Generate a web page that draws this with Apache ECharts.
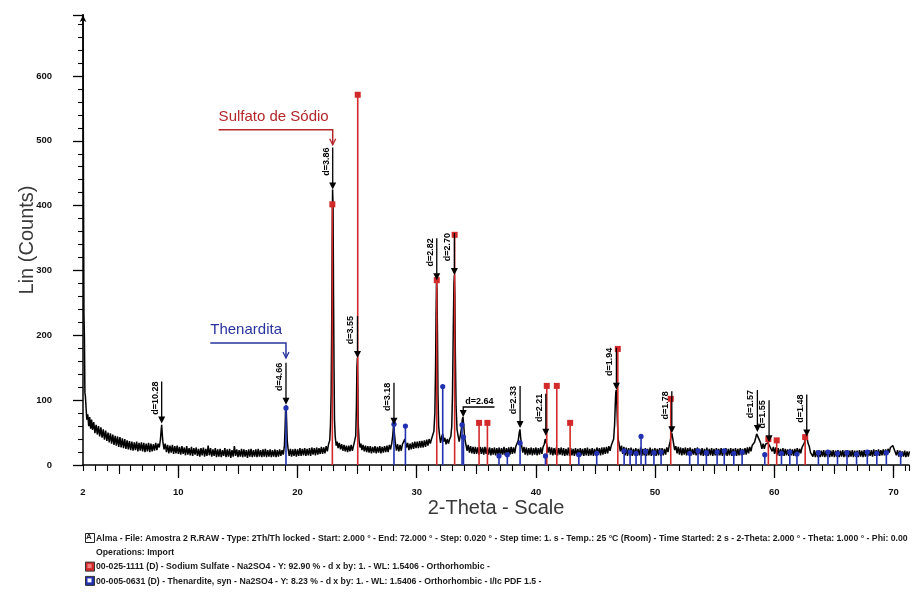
<!DOCTYPE html>
<html>
<head>
<meta charset="utf-8">
<script src="https://cdn.jsdelivr.net/npm/echarts@6/dist/echarts.min.js"></script>
<style>
  html, body { margin: 0; padding: 0; background: #ffffff; }
  #chart { width: 912px; height: 604px; }
</style>
</head>
<body>
<div id="chart"></div>
<script>
// ---- Axis ticks ----
const xTickLabels = [2, 10, 20, 30, 40, 50, 60, 70];
const xMidTicks = [5, 15, 25, 35, 45, 55, 65];

// ---- Measured scan (2-Theta, Lin counts) ----
const scanLowAngle = [
  [2.00, 700], [2.04, 430], [2.08, 232], [2.12, 195], [2.16, 112], [2.20, 106], [2.26, 88], [2.32, 70],
  [2.40, 78], [2.48, 60], [2.56, 74], [2.64, 56], [2.72, 70], [2.80, 54], [2.90, 66], [3.00, 49],
  [3.10, 62], [3.20, 47], [3.30, 60], [3.40, 44], [3.50, 58], [3.60, 42], [3.70, 55], [3.80, 39],
  [3.90, 53], [4.00, 37], [4.10, 50], [4.20, 35], [4.30, 49], [4.40, 33], [4.50, 47], [4.60, 31],
  [4.70, 45], [4.80, 30], [4.90, 44], [5.00, 28], [5.10, 43], [5.20, 27], [5.30, 41], [5.40, 26],
  [5.50, 40], [5.60, 25], [5.70, 38], [5.80, 24], [5.90, 37], [6.00, 23], [6.10, 36], [6.20, 22],
  [6.30, 35], [6.40, 23], [6.50, 36], [6.60, 21], [6.70, 34], [6.80, 22], [6.90, 35], [7.00, 21],
  [7.10, 34], [7.20, 20], [7.30, 33], [7.40, 21], [7.50, 34], [7.60, 20], [7.70, 33], [7.80, 21],
  [7.90, 32], [8.00, 22], [8.10, 34], [8.20, 23], [8.30, 33], [8.40, 27], [8.50, 40], [8.56, 54],
  [8.60, 62], [8.64, 50], [8.70, 36], [8.80, 24], [8.90, 33], [9.00, 20], [9.10, 31], [9.20, 18],
  [9.30, 30], [9.40, 19], [9.50, 31], [9.60, 17], [9.70, 29], [9.80, 18], [9.90, 30], [10.00, 17],
  [10.10, 28], [10.20, 16], [10.30, 29], [10.40, 17], [10.50, 27], [10.60, 15], [10.70, 29], [10.80, 16],
  [10.90, 26], [11.00, 15], [11.10, 28], [11.20, 14], [11.30, 26], [11.40, 16], [11.50, 27], [11.60, 14],
  [11.70, 25], [11.80, 13], [11.90, 26], [12.00, 15], [12.10, 27], [12.20, 13], [12.30, 25], [12.40, 14],
  [12.50, 30], [12.60, 15], [12.70, 26], [12.80, 13], [12.90, 24], [13.00, 14], [13.10, 26], [13.20, 12],
  [13.30, 24], [13.40, 13], [13.50, 25], [13.60, 12], [13.70, 23], [13.80, 14], [13.90, 26], [14.00, 12],
  [14.10, 24], [14.20, 13], [14.30, 25], [14.40, 11], [14.50, 23], [14.60, 13], [14.70, 29], [14.80, 14],
  [14.90, 24], [15.00, 12], [15.10, 23], [15.20, 13], [15.30, 25], [15.40, 12], [15.50, 24], [15.60, 13],
  [15.70, 23], [15.80, 11], [15.90, 24], [16.00, 13], [16.10, 25], [16.20, 12], [16.30, 23], [16.40, 13],
  [16.50, 24], [16.60, 12], [16.70, 25], [16.80, 13], [16.90, 23], [17.00, 12], [17.10, 24], [17.20, 13],
  [17.30, 25], [17.40, 12], [17.50, 23], [17.60, 13], [17.70, 24], [17.80, 12], [17.90, 23]
];
const scanMidAngle = [
  [18.00, 13], [18.10, 24], [18.20, 12], [18.30, 23], [18.40, 13], [18.50, 24], [18.60, 14], [18.70, 23],
  [18.80, 16], [18.90, 30], [18.96, 60], [19.00, 88], [19.04, 92], [19.08, 70], [19.14, 36], [19.20, 26],
  [19.30, 14], [19.40, 25], [19.50, 13], [19.60, 24], [19.70, 14], [19.80, 25], [19.90, 13], [20.00, 24],
  [20.10, 14], [20.20, 26], [20.30, 14], [20.40, 25], [20.50, 15], [20.60, 26], [20.70, 14], [20.80, 25],
  [20.90, 15], [21.00, 26], [21.10, 14], [21.20, 27], [21.30, 16], [21.40, 26], [21.50, 15], [21.60, 27],
  [21.70, 16], [21.80, 26], [21.90, 17], [22.00, 28], [22.10, 17], [22.20, 27], [22.30, 18], [22.40, 29],
  [22.50, 21], [22.60, 32], [22.70, 38], [22.76, 60], [22.82, 110], [22.86, 200], [22.90, 330], [22.94, 425],
  [22.98, 400], [23.02, 260], [23.06, 150], [23.10, 70], [23.16, 44], [23.24, 30], [23.32, 36], [23.40, 26],
  [23.50, 34], [23.60, 24], [23.70, 32], [23.80, 22], [23.90, 31], [24.00, 21], [24.10, 30], [24.20, 20],
  [24.30, 30], [24.40, 21], [24.50, 31], [24.60, 22], [24.70, 30], [24.80, 33], [24.88, 45], [24.94, 90],
  [24.98, 150], [25.02, 165], [25.06, 120], [25.10, 60], [25.16, 38], [25.24, 27], [25.32, 33], [25.40, 23],
  [25.50, 31], [25.60, 21], [25.70, 30], [25.80, 20], [25.90, 29], [26.00, 19], [26.10, 29], [26.20, 18],
  [26.30, 28], [26.40, 19], [26.50, 29], [26.60, 18], [26.70, 28], [26.80, 19], [26.90, 29], [27.00, 18],
  [27.10, 28], [27.20, 19], [27.30, 29], [27.40, 20], [27.50, 30], [27.60, 20], [27.70, 31], [27.80, 24],
  [27.90, 33], [27.98, 44], [28.04, 58], [28.08, 62], [28.12, 50], [28.20, 35], [28.30, 22], [28.40, 32],
  [28.50, 21], [28.60, 31], [28.70, 22], [28.80, 32], [28.90, 30], [29.00, 40], [29.06, 38], [29.14, 27],
  [29.24, 34], [29.34, 23], [29.44, 33], [29.54, 24], [29.64, 35], [29.74, 25], [29.84, 36], [29.94, 26],
  [30.04, 36], [30.14, 26], [30.24, 37], [30.34, 27], [30.44, 37], [30.54, 27], [30.64, 38], [30.74, 28],
  [30.84, 39], [30.94, 30], [31.04, 40], [31.14, 33], [31.24, 40], [31.34, 42], [31.44, 52], [31.52, 80],
  [31.58, 150], [31.62, 230], [31.66, 285], [31.70, 270], [31.74, 200], [31.78, 110], [31.84, 60], [31.92, 44],
  [32.00, 34], [32.10, 44], [32.18, 48], [32.26, 36], [32.36, 42], [32.46, 32], [32.56, 40], [32.66, 33],
  [32.76, 40], [32.86, 44], [32.94, 60], [33.00, 110], [33.06, 200], [33.12, 280], [33.16, 293], [33.20, 260],
  [33.24, 170], [33.30, 90], [33.38, 55], [33.46, 46], [33.56, 36], [33.66, 46], [33.74, 55], [33.82, 70],
  [33.88, 74], [33.94, 62], [34.02, 42], [34.12, 32], [34.22, 22], [34.32, 31], [34.42, 19], [34.52, 29],
  [34.62, 18], [34.72, 28], [34.82, 17], [34.92, 28], [35.02, 17], [35.12, 27], [35.22, 16], [35.32, 28],
  [35.42, 17], [35.52, 27], [35.62, 16], [35.72, 28], [35.82, 17], [35.92, 27]
];
const scanHighAngle = [
  [36.02, 16], [36.12, 27], [36.22, 15], [36.32, 26], [36.42, 16], [36.52, 27], [36.62, 15], [36.72, 26],
  [36.82, 16], [36.92, 27], [37.02, 15], [37.12, 26], [37.22, 16], [37.32, 28], [37.42, 15], [37.52, 26],
  [37.62, 17], [37.72, 27], [37.82, 16], [37.92, 28], [38.02, 17], [38.12, 27], [38.22, 18], [38.32, 29],
  [38.42, 28], [38.52, 38], [38.60, 50], [38.66, 55], [38.72, 42], [38.80, 30], [38.90, 19], [39.00, 28],
  [39.10, 16], [39.20, 27], [39.30, 15], [39.40, 26], [39.50, 16], [39.60, 27], [39.70, 15], [39.80, 26],
  [39.90, 16], [40.00, 27], [40.10, 15], [40.20, 26], [40.30, 16], [40.40, 27], [40.50, 17], [40.60, 28],
  [40.70, 32], [40.78, 40], [40.84, 43], [40.92, 31], [41.02, 19], [41.12, 28], [41.22, 16], [41.32, 27],
  [41.42, 15], [41.52, 26], [41.62, 16], [41.72, 27], [41.82, 15], [41.92, 26], [42.02, 16], [42.12, 27],
  [42.22, 15], [42.32, 26], [42.42, 14], [42.52, 25], [42.62, 15], [42.72, 27], [42.82, 14], [42.92, 26],
  [43.02, 15], [43.12, 25], [43.22, 14], [43.32, 26], [43.42, 15], [43.52, 25], [43.62, 14], [43.72, 26],
  [43.82, 15], [43.92, 25], [44.02, 14], [44.12, 26], [44.22, 15], [44.32, 27], [44.42, 14], [44.52, 25],
  [44.62, 15], [44.72, 26], [44.82, 14], [44.92, 25], [45.02, 15], [45.12, 27], [45.22, 16], [45.32, 26],
  [45.42, 15], [45.52, 27], [45.62, 16], [45.72, 27], [45.82, 17], [45.92, 28], [46.02, 18], [46.12, 29],
  [46.22, 22], [46.32, 30], [46.42, 30], [46.52, 40], [46.60, 62], [46.66, 95], [46.70, 112], [46.74, 116],
  [46.78, 100], [46.84, 65], [46.90, 40], [46.98, 32], [47.08, 21], [47.18, 30], [47.28, 17], [47.38, 28],
  [47.48, 15], [47.58, 27], [47.68, 14], [47.78, 26], [47.88, 15], [47.98, 27], [48.08, 14], [48.18, 25],
  [48.28, 15], [48.38, 26], [48.48, 14], [48.58, 25], [48.68, 15], [48.78, 27], [48.88, 14], [48.98, 25],
  [49.08, 15], [49.18, 26], [49.28, 14], [49.38, 25], [49.48, 15], [49.58, 27], [49.68, 14], [49.78, 25],
  [49.88, 15], [49.98, 26], [50.08, 14], [50.18, 25], [50.28, 15], [50.38, 26], [50.48, 14], [50.58, 26],
  [50.68, 15], [50.78, 25], [50.88, 16], [50.98, 27], [51.08, 20], [51.18, 30], [51.26, 36], [51.34, 45],
  [51.40, 49], [51.46, 43], [51.54, 34], [51.64, 23], [51.74, 29], [51.84, 18], [51.94, 28], [52.04, 16],
  [52.14, 27], [52.24, 15], [52.34, 26], [52.44, 16], [52.54, 27], [52.64, 15], [52.74, 26], [52.84, 16],
  [52.94, 27], [53.04, 15], [53.14, 25], [53.24, 16], [53.34, 26], [53.44, 15], [53.54, 27], [53.64, 16],
  [53.74, 25], [53.84, 15], [53.94, 26], [54.04, 14], [54.14, 25], [54.24, 15], [54.34, 27], [54.44, 14],
  [54.54, 25], [54.64, 15], [54.74, 26], [54.84, 14], [54.94, 25], [55.04, 15], [55.14, 26], [55.24, 14],
  [55.34, 25], [55.44, 15], [55.54, 26], [55.64, 14], [55.74, 25], [55.84, 15], [55.94, 26], [56.04, 14],
  [56.14, 25], [56.24, 15], [56.34, 26], [56.44, 14], [56.54, 25], [56.64, 15], [56.74, 26], [56.84, 14],
  [56.94, 25], [57.04, 15], [57.14, 26], [57.24, 15], [57.34, 25], [57.44, 16], [57.54, 26], [57.64, 16],
  [57.74, 27], [57.84, 18], [57.94, 28], [58.04, 21], [58.14, 30], [58.24, 28], [58.34, 35], [58.44, 42],
  [58.52, 48], [58.60, 51], [58.68, 45], [58.76, 38], [58.86, 33], [58.96, 25], [59.06, 33], [59.16, 25],
  [59.26, 32], [59.36, 30], [59.46, 34], [59.54, 35], [59.62, 29], [59.72, 30], [59.82, 21], [59.92, 28],
  [60.02, 17], [60.12, 27], [60.22, 15], [60.32, 26], [60.42, 14], [60.52, 25], [60.62, 15], [60.72, 26],
  [60.82, 14], [60.92, 25], [61.02, 15], [61.12, 24], [61.22, 14], [61.32, 25], [61.42, 15], [61.52, 24],
  [61.62, 14], [61.72, 25], [61.82, 15], [61.92, 26], [62.02, 16], [62.12, 25], [62.22, 18], [62.32, 27],
  [62.42, 28], [62.52, 34], [62.60, 40], [62.68, 44], [62.76, 40], [62.84, 33], [62.94, 28], [63.04, 19],
  [63.14, 22], [63.24, 13], [63.34, 23], [63.44, 12], [63.54, 22], [63.64, 12], [63.74, 23], [63.84, 12],
  [63.94, 22], [64.04, 13], [64.14, 23], [64.24, 12], [64.34, 22], [64.44, 13], [64.54, 23], [64.64, 12],
  [64.74, 22], [64.84, 13], [64.94, 23], [65.04, 12], [65.14, 22], [65.24, 13], [65.34, 23], [65.44, 12],
  [65.54, 22], [65.64, 13], [65.74, 23], [65.84, 12], [65.94, 22], [66.04, 13], [66.14, 23], [66.24, 12],
  [66.34, 22], [66.44, 13], [66.54, 23], [66.64, 12], [66.74, 22], [66.84, 13], [66.94, 22], [67.04, 12],
  [67.14, 23], [67.24, 13], [67.34, 22], [67.44, 12], [67.54, 23], [67.64, 13], [67.74, 22], [67.84, 13],
  [67.94, 23], [68.04, 14], [68.14, 23], [68.24, 13], [68.34, 24], [68.44, 14], [68.54, 23], [68.64, 14],
  [68.74, 24], [68.84, 14], [68.94, 23], [69.04, 15], [69.14, 24], [69.24, 15], [69.34, 24], [69.44, 16],
  [69.54, 25], [69.64, 19], [69.74, 27], [69.84, 26], [69.94, 30], [70.04, 25], [70.14, 26], [70.24, 15],
  [70.34, 23], [70.44, 13], [70.54, 22], [70.64, 12], [70.74, 21], [70.84, 13], [70.94, 22], [71.04, 12],
  [71.14, 21], [71.24, 13], [71.34, 21]
];

// ---- Reference patterns (2-Theta, stick height) ----
const sodiumSulfateSticks = [
  [22.92, 402], [25.05, 571], [31.68, 285], [33.18, 355], [35.23, 65], [35.93, 65],
  [40.91, 122], [41.75, 122], [42.87, 65], [46.87, 179], [51.31, 102], [59.50, 40],
  [60.20, 38], [62.59, 43]
];
const thenarditeSticks = [
  [19.03, 88], [28.09, 63], [29.05, 60], [32.18, 121], [33.80, 62], [33.92, 43],
  [38.67, 34], [40.80, 14], [36.90, 14], [37.60, 16], [43.60, 16], [45.10, 18],
  [47.40, 22], [47.90, 20], [48.40, 18], [48.82, 44], [49.20, 21], [49.90, 19],
  [50.50, 20], [52.90, 18], [53.60, 22], [54.30, 19], [55.20, 20], [55.80, 22],
  [56.60, 18], [57.30, 20], [59.20, 16], [60.60, 18], [61.30, 20], [61.90, 17],
  [63.70, 19], [64.50, 20], [65.30, 18], [66.10, 19], [66.90, 17], [67.80, 20],
  [68.60, 18], [69.40, 19], [70.60, 17]
];

// ---- Peak d-spacing tags (2-Theta, counts at arrow tip, text) ----
const peakTags = [
  [8.60, 64, 'd=10.28'], [19.03, 93, 'd=4.66'], [22.95, 425, 'd=3.86'], [25.03, 165, 'd=3.55'],
  [28.09, 62, 'd=3.18'], [31.68, 285, 'd=2.82'], [33.16, 293, 'd=2.70'], [38.67, 57, 'd=2.33'],
  [40.83, 45, 'd=2.21'], [46.75, 116, 'd=1.94'], [51.40, 49, 'd=1.78'], [58.58, 51, 'd=1.57'],
  [59.56, 35, 'd=1.55'], [62.72, 44, 'd=1.48']
];
const sideTags = [[33.90, 74, 'd=2.64']];

// ---- Phase callouts (text, 2-Theta, counts at arrow tip, phase) ----
const phaseCallouts = [
  ['Sulfato de Sódio', 22.95, 494, 'sulfate'],
  ['Thenardita', 19.03, 165, 'thenardite']
];

// ---- Scan / pattern description lines ----
const legendLines = [
  'Alma - File: Amostra 2 R.RAW - Type: 2Th/Th locked - Start: 2.000 ° - End: 72.000 ° - Step: 0.020 ° - Step time: 1. s - Temp.: 25 °C (Room) - Time Started: 2 s - 2-Theta: 2.000 ° - Theta: 1.000 ° - Phi: 0.00',
  'Operations: Import',
  '00-025-1111 (D) - Sodium Sulfate - Na2SO4 - Y: 92.90 % - d x by: 1. - WL: 1.5406 - Orthorhombic -',
  '00-005-0631 (D) - Thenardite, syn - Na2SO4 - Y: 8.23 % - d x by: 1. - WL: 1.5406 - Orthorhombic - I/Ic PDF 1.5 -'
];
const legendKinds = ['scan', null, 'sulfate', 'thenardite'];

// ---- Styling ----
const phaseColor = { sulfate: '#d22a2a', thenardite: '#2231b0' };
const calloutColor = { sulfate: '#b3262a', thenardite: '#28349c' };
const tagFont = 'bold 9px "Liberation Sans Narrow", "Liberation Sans", sans-serif';
const calloutFont = '15px "Liberation Sans", Arial, sans-serif';
const legendFont = 'bold 8.7px "Liberation Sans Narrow", "Liberation Sans", sans-serif';

const measureCtx = document.createElement('canvas').getContext('2d');
function textWidth(text, font) {
  measureCtx.font = font;
  return measureCtx.measureText(text).width;
}

const X_MIN = 2, X_MAX = 71.3, Y_MAX = 694;

function stickRenderer(color, squareMarker) {
  return function (params, api) {
    const top = api.coord([api.value(0), api.value(1)]);
    const base = api.coord([api.value(0), 0]);
    const marker = squareMarker
      ? { type: 'rect', shape: { x: top[0] - 3, y: top[1] - 3, width: 6, height: 6 }, style: { fill: color } }
      : { type: 'circle', shape: { cx: top[0], cy: top[1], r: 2.6 }, style: { fill: color } };
    return {
      type: 'group',
      children: [
        { type: 'line', shape: { x1: base[0], y1: base[1], x2: top[0], y2: top[1] },
          style: { stroke: color, lineWidth: 1.6 } },
        marker
      ]
    };
  };
}

function peakTagRenderer(params, api) {
  const p = api.coord([api.value(0), api.value(1)]);
  const text = peakTags[params.dataIndex][2];
  const topY = p[1] - 42;
  return {
    type: 'group',
    children: [
      { type: 'polygon', shape: { points: [[p[0] - 3.5, p[1] - 7], [p[0] + 3.5, p[1] - 7], [p[0], p[1]]] },
        style: { fill: '#000' } },
      { type: 'line', shape: { x1: p[0], y1: p[1] - 6, x2: p[0], y2: topY },
        style: { stroke: '#000', lineWidth: 1.3 } },
      { type: 'text', x: p[0] - 2, y: topY, rotation: Math.PI / 2,
        style: { text: text, font: tagFont, fill: '#000', align: 'right', verticalAlign: 'bottom' } }
    ]
  };
}

function sideTagRenderer(params, api) {
  const p = api.coord([api.value(0), api.value(1)]);
  const text = sideTags[params.dataIndex][2];
  const w = textWidth(text, tagFont) + 3;
  const lineY = p[1] - 10;
  return {
    type: 'group',
    children: [
      { type: 'polygon', shape: { points: [[p[0] - 3.5, p[1] - 7], [p[0] + 3.5, p[1] - 7], [p[0], p[1]]] },
        style: { fill: '#000' } },
      { type: 'polyline', shape: { points: [[p[0], p[1] - 6], [p[0], lineY], [p[0] + w, lineY]] },
        style: { stroke: '#000', lineWidth: 1.3, fill: null } },
      { type: 'text', x: p[0] + 2, y: lineY - 1,
        style: { text: text, font: tagFont, fill: '#000', align: 'left', verticalAlign: 'bottom' } }
    ]
  };
}

function calloutRenderer(params, api) {
  const p = api.coord([api.value(0), api.value(1)]);
  const item = phaseCallouts[params.dataIndex];
  const color = calloutColor[item[3]];
  const lineLen = textWidth(item[0], calloutFont) + 4;
  const lineY = p[1] - 15;
  return {
    type: 'group',
    children: [
      { type: 'polyline', shape: { points: [[p[0] - lineLen, lineY], [p[0], lineY], [p[0], p[1]]] },
        style: { stroke: color, lineWidth: 1.5, fill: null } },
      { type: 'polyline', shape: { points: [[p[0] - 3, p[1] - 6], [p[0], p[1]], [p[0] + 3, p[1] - 6]] },
        style: { stroke: color, lineWidth: 1.3, fill: null } },
      { type: 'text', x: p[0] - lineLen, y: lineY - 13,
        style: { text: item[0], font: calloutFont, fill: color, align: 'left', verticalAlign: 'middle' } }
    ]
  };
}

// ---- Bottom description block ----
const legendGraphics = [];
const legendTop = 534;
const legendRowGap = 14.3;
legendLines.forEach(function (line, i) {
  const y = legendTop + i * legendRowGap;
  const kind = legendKinds[i];
  if (kind === 'scan') {
    legendGraphics.push({ type: 'rect', left: 85, top: y - 1, shape: { width: 9, height: 9 },
      style: { fill: '#fff', stroke: '#222', lineWidth: 1 } });
    legendGraphics.push({ type: 'text', left: 86, top: y - 1,
      style: { text: 'A', font: 'bold 8px "Liberation Sans"', fill: '#222' } });
  } else if (kind) {
    legendGraphics.push({ type: 'rect', left: 85, top: y - 1, shape: { width: 9, height: 9 },
      style: { fill: phaseColor[kind], stroke: '#333', lineWidth: 1 } });
    legendGraphics.push({ type: 'rect', left: 87.5, top: y + 1.5, shape: { width: 4, height: 4 },
      style: { fill: kind === 'sulfate' ? '#f08080' : '#ffffff' } });
  }
  legendGraphics.push({
    type: 'text', left: 96, top: y,
    style: { text: line, font: legendFont, fill: '#1a1a1a' }
  });
});

const chart = echarts.init(document.getElementById('chart'), null, { renderer: 'canvas' });

const axisLabelFont = { fontFamily: '"Liberation Sans Narrow", "Liberation Sans", sans-serif', fontWeight: 'bold', fontSize: 9.5, color: '#111' };
const axisNameFont = { fontFamily: '"Liberation Sans", Arial, sans-serif', fontSize: 20, color: '#3a3a3a' };

chart.setOption({
  animation: false,
  backgroundColor: '#ffffff',
  grid: { left: 83, right: 3, top: 15, bottom: 139, containLabel: false },
  xAxis: [
    {
      type: 'value', min: X_MIN, max: X_MAX, position: 'bottom',
      axisLine: { show: true, onZero: false, lineStyle: { color: '#000', width: 1.5 } },
      axisTick: { show: true, customValues: xTickLabels.slice(1), length: 13, lineStyle: { color: '#000', width: 1.3 } },
      axisLabel: Object.assign({ customValues: xTickLabels, margin: 22 }, axisLabelFont),
      splitLine: { show: false },
      name: '2-Theta - Scale', nameLocation: 'middle', nameGap: 33, nameMoveOverlap: false,
      nameTextStyle: axisNameFont
    },
    {
      type: 'value', min: X_MIN, max: X_MAX, interval: 1, position: 'bottom',
      axisLine: { show: false }, axisLabel: { show: false }, splitLine: { show: false },
      axisTick: { show: true, length: 6, lineStyle: { color: '#000', width: 1.1 } }
    },
    {
      type: 'value', min: X_MIN, max: X_MAX, position: 'bottom',
      axisLine: { show: false }, axisLabel: { show: false }, splitLine: { show: false },
      axisTick: { show: true, customValues: xMidTicks, length: 9, lineStyle: { color: '#000', width: 1.1 } }
    }
  ],
  yAxis: {
    type: 'value', min: 0, max: Y_MAX, interval: 100,
    axisLine: { show: true, onZero: false, lineStyle: { color: '#000', width: 1.5 }, symbol: ['none', 'arrow'], symbolSize: [5, 7] },
    axisTick: { show: true, length: 10, lineStyle: { color: '#000', width: 1.3 } },
    minorTick: { show: true, splitNumber: 5, length: 5, lineStyle: { color: '#000', width: 1.1 } },
    axisLabel: Object.assign({ margin: 31, formatter: function (v) { return v % 100 === 0 ? String(v) : ''; } }, axisLabelFont),
    splitLine: { show: false },
    name: 'Lin (Counts)', nameLocation: 'middle', nameGap: 46, nameMoveOverlap: false,
    nameTextStyle: axisNameFont
  },
  graphic: legendGraphics,
  series: [
    {
      name: 'Scan', type: 'line', xAxisIndex: 0, z: 2,
      data: scanLowAngle.concat(scanMidAngle, scanHighAngle),
      showSymbol: false, symbol: 'none', clip: true,
      lineStyle: { color: '#000', width: 1.5 }
    },
    {
      name: 'Sodium Sulfate', type: 'custom', xAxisIndex: 0, z: 3,
      data: sodiumSulfateSticks, renderItem: stickRenderer(phaseColor.sulfate, true)
    },
    {
      name: 'Thenardite', type: 'custom', xAxisIndex: 0, z: 3,
      data: thenarditeSticks, renderItem: stickRenderer(phaseColor.thenardite, false)
    },
    {
      name: 'd tags', type: 'custom', xAxisIndex: 0, z: 4,
      data: peakTags.map(function (t) { return [t[0], t[1]]; }), renderItem: peakTagRenderer
    },
    {
      name: 'd side tags', type: 'custom', xAxisIndex: 0, z: 4,
      data: sideTags.map(function (t) { return [t[0], t[1]]; }), renderItem: sideTagRenderer
    },
    {
      name: 'Phases', type: 'custom', xAxisIndex: 0, z: 4,
      data: phaseCallouts.map(function (c) { return [c[1], c[2]]; }), renderItem: calloutRenderer
    }
  ]
});
</script>
</body>
</html>
